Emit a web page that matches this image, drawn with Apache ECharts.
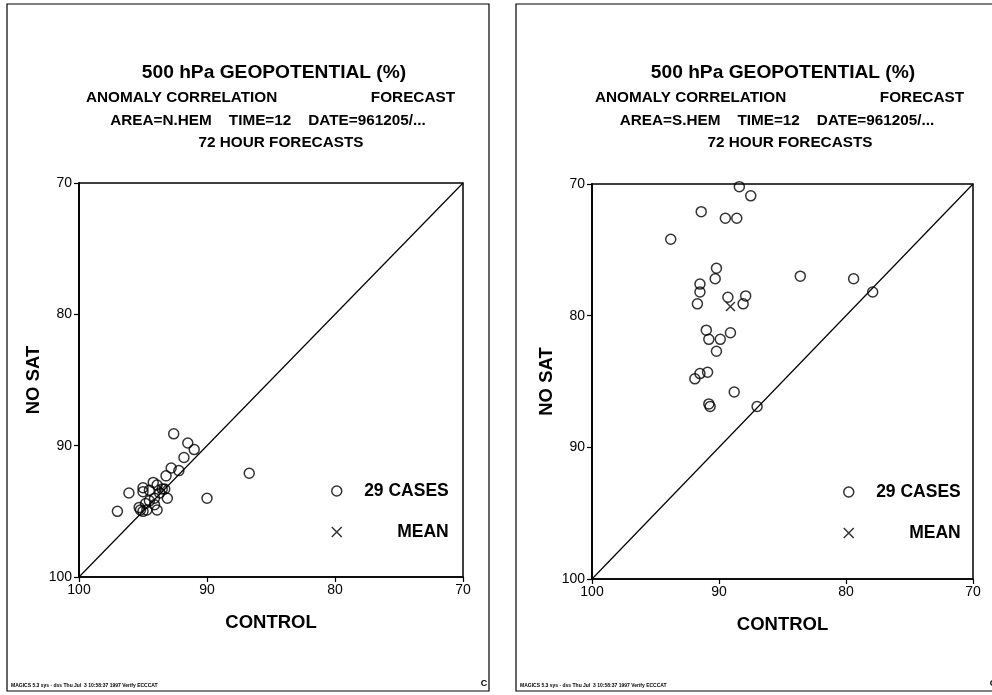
<!DOCTYPE html>
<html>
<head>
<meta charset="utf-8">
<script src="https://cdn.jsdelivr.net/npm/echarts@6/dist/echarts.min.js"></script>
<style>html,body{margin:0;padding:0;background:#fff}#c{width:992px;height:695px}</style>
</head>
<body>
<div id="c"></div>
<script>
// ---------- data ----------
var axisTicks = [70, 80, 90, 100];
var casesLabel = '29 CASES';
var meanLabel = 'MEAN';
var titleMain = '500 hPa GEOPOTENTIAL (%)';
var subLeft = 'ANOMALY CORRELATION';
var subRight = 'FORECAST';
var areaN = 'AREA=N.HEM    TIME=12    DATE=961205/...';
var areaS = 'AREA=S.HEM    TIME=12    DATE=961205/...';
var hourLine = '72 HOUR FORECASTS';
var xName = 'CONTROL';
var yName = 'NO SAT';
var footer = 'MAGICS 5.3 sys - dss Thu Jul  3 10:58:37 1997 Verify ECCCAT';
var diagonal = [[100, 100], [70, 70]];

// [CONTROL, NO SAT]
var nhemCases = [
  [92.6, 89.1], [91.5, 89.8], [91.0, 90.3], [91.8, 90.9], [86.7, 92.1],
  [92.2, 91.9], [92.8, 91.7], [93.2, 92.3], [90.0, 94.0], [97.0, 95.0],
  [96.1, 93.6], [95.0, 93.2], [95.0, 93.5], [94.2, 92.8], [93.9, 93.0],
  [94.5, 93.4], [93.5, 93.3], [93.1, 94.0], [93.9, 94.9], [95.2, 94.9],
  [95.3, 94.7], [94.8, 94.4], [94.1, 94.5], [94.7, 94.9], [95.0, 95.0],
  [93.7, 93.6], [93.3, 93.3], [94.1, 94.0], [94.5, 94.2]
];
var nhemMean = [[93.5, 93.3]];

var shemCases = [
  [88.4, 70.2], [87.5, 70.9], [91.4, 72.1], [89.5, 72.6], [88.6, 72.6],
  [93.8, 74.2], [90.2, 76.4], [90.3, 77.2], [91.5, 77.6], [91.5, 78.2],
  [91.7, 79.1], [89.3, 78.6], [87.9, 78.5], [88.1, 79.1], [83.6, 77.0],
  [79.4, 77.2], [77.9, 78.2], [91.0, 81.1], [90.8, 81.8], [89.9, 81.8],
  [89.1, 81.3], [90.2, 82.7], [90.9, 84.3], [91.5, 84.4], [91.9, 84.8],
  [88.8, 85.8], [90.8, 86.7], [90.7, 86.9], [87.0, 86.9]
];
var shemMean = [[89.1, 79.3]];

// ---------- chart ----------
var FONT = '"Liberation Sans", Arial, Helvetica, sans-serif';
var chart = echarts.init(document.getElementById('c'), null, {renderer: 'canvas'});

var grids = [
  {left: 79, top: 183, width: 384, height: 394},
  {left: 592, top: 184, width: 381, height: 395}
];

function xAx(i) {
  return {
    type: 'value', gridIndex: i, min: 70, max: 100, interval: 10, inverse: true,
    name: xName, nameLocation: 'middle', nameGap: 36,
    nameTextStyle: {fontFamily: FONT, fontWeight: 'bold', fontSize: 18.5, color: '#000'},
    axisLine: {show: true, lineStyle: {color: '#000', width: 1.5}},
    axisTick: {show: true, length: 5, lineStyle: {color: '#000', width: 1.2}},
    axisLabel: {fontFamily: FONT, fontSize: 14, color: '#000', margin: 6},
    splitLine: {show: false}
  };
}
function yAx(i) {
  return {
    type: 'value', gridIndex: i, min: 70, max: 100, interval: 10, inverse: true,
    name: yName, nameLocation: 'middle', nameGap: 36, nameRotate: 90,
    nameTextStyle: {fontFamily: FONT, fontWeight: 'bold', fontSize: 18.5, color: '#000'},
    axisLine: {show: true, lineStyle: {color: '#000', width: 1.8}},
    axisTick: {show: true, length: 5, lineStyle: {color: '#000', width: 1.2}},
    axisLabel: {fontFamily: FONT, fontSize: 14, color: '#000', margin: 7},
    splitLine: {show: false}
  };
}

var circleStyle = {color: 'rgba(0,0,0,0)', borderColor: '#000', borderWidth: 1.5};
var crossPath = 'path://M0,0L10,10M10,0L0,10';
var crossStyle = {color: 'none', borderColor: '#000', borderWidth: 1.5};

function seriesFor(i, cases, mean) {
  return [
    {type: 'line', name: 'diag' + i, xAxisIndex: i, yAxisIndex: i, data: diagonal,
     showSymbol: false, symbol: 'none', silent: true, lineStyle: {color: '#000', width: 1.2}, z: 1},
    {type: 'scatter', name: casesLabel, xAxisIndex: i, yAxisIndex: i, data: cases,
     symbol: 'circle', symbolSize: 10, itemStyle: circleStyle, z: 3},
    {type: 'scatter', name: meanLabel, xAxisIndex: i, yAxisIndex: i, data: mean,
     symbol: crossPath, symbolSize: 9, itemStyle: crossStyle, z: 4}
  ];
}

function legendFor(left, top) {
  return {
    orient: 'vertical', left: left, top: top, itemGap: 23, itemWidth: 10, itemHeight: 10,
    padding: 0, selectedMode: false,
    data: [{name: casesLabel, icon: 'circle'}, {name: meanLabel, icon: crossPath}],
    itemStyle: {color: 'rgba(0,0,0,0)', borderColor: '#000', borderWidth: 1.5},
    formatter: function (n) { return '{a|' + n + '}'; },
    textStyle: {rich: {a: {fontFamily: FONT, fontWeight: 'bold', fontSize: 17.5, lineHeight: 18,
      color: '#000', width: 102, align: 'right'}}}
  };
}

function txt(x, y, s, size, align, weight) {
  return {type: 'text', x: x, y: y, silent: true,
    style: {text: s, fill: '#000', font: (weight || 'bold') + ' ' + size + 'px ' + FONT,
      textAlign: align || 'center', textVerticalAlign: 'middle'}};
}

function panelGraphics(dx, area) {
  return [
    {type: 'rect', shape: {x: 7 + dx, y: 4, width: 482, height: 687}, silent: true,
     style: {fill: 'none', stroke: '#000', lineWidth: 1.2}},
    txt(274 + dx, 73, titleMain, 19.2),
    txt(86 + dx, 98, subLeft, 15.3, 'left'),
    txt(455 + dx, 98, subRight, 15.3, 'right'),
    txt(268 + dx, 121, area, 15.3),
    txt(281 + dx, 143, hourLine, 15.3),
    txt(11 + dx, 686, footer, 5, 'left'),
    txt(484 + dx, 684, 'C', 9, 'center')
  ];
}

var option = {
  backgroundColor: '#fff',
  animation: false,
  grid: grids.map(function (g) { return Object.assign({show: false}, g); }),
  xAxis: [xAx(0), xAx(1)],
  yAxis: [yAx(0), yAx(1)],
  legend: [legendFor(331, 482), legendFor(843, 483)],
  series: seriesFor(0, nhemCases, nhemMean).concat(seriesFor(1, shemCases, shemMean)),
  graphic: panelGraphics(0, areaN).concat(panelGraphics(509, areaS)).concat([
    {type: 'rect', shape: {x: 79, y: 183, width: 384, height: 394}, silent: true, z: -1,
     style: {fill: 'none', stroke: '#000', lineWidth: 1.5}},
    {type: 'rect', shape: {x: 592, y: 184, width: 381, height: 395}, silent: true, z: -1,
     style: {fill: 'none', stroke: '#000', lineWidth: 1.5}}
  ])
};
chart.setOption(option);
</script>
</body>
</html>
